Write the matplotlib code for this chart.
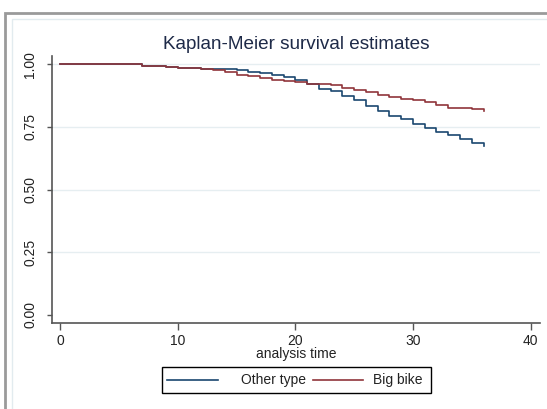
import matplotlib
matplotlib.use("Agg")
import matplotlib.pyplot as plt
from matplotlib.patches import Rectangle
from matplotlib.lines import Line2D

plt.rcParams['font.family'] = ['Liberation Sans', 'DejaVu Sans']

# Kaplan-Meier step values (time in months)
other_t = [0, 7, 9, 10, 12, 14, 15, 16, 17, 18, 19, 20, 21, 22, 23, 24, 25,
           26, 27, 28, 29, 30, 31, 32, 33, 34, 35, 36]
other_s = [1.0, 0.994, 0.991, 0.986, 0.983, 0.980, 0.976, 0.970, 0.964, 0.956,
           0.948, 0.937, 0.921, 0.903, 0.892, 0.875, 0.858, 0.835, 0.815,
           0.795, 0.781, 0.762, 0.745, 0.731, 0.717, 0.702, 0.685, 0.674]

big_t = [0, 7, 9, 10, 12, 13, 14, 15, 16, 17, 18, 19, 20, 21, 23, 24, 25, 26,
         27, 28, 29, 30, 31, 32, 33, 35, 36]
big_s = [1.0, 0.994, 0.989, 0.986, 0.980, 0.976, 0.968, 0.958, 0.952, 0.944,
         0.939, 0.935, 0.929, 0.921, 0.917, 0.907, 0.896, 0.888, 0.879, 0.868,
         0.860, 0.856, 0.848, 0.839, 0.827, 0.822, 0.815]

series_names = ['Other type', 'Big bike']

x_ticks = [0, 10, 20, 30, 40]
y_ticks = [0.0, 0.25, 0.5, 0.75, 1.0]
y_grid = [0.25, 0.5, 0.75, 1.0]

blue = '#1a476f'
red = '#90353b'

W, H = 547, 409
fig = plt.figure(figsize=(W / 100, H / 100), dpi=100)
fig.patch.set_facecolor('white')


def fx(px):
    return px / W


def fy(py):
    return 1 - py / H


# slide-like frame around the graph
fig.add_artist(Rectangle((fx(5), -0.1), 1.2, fy(13) + 0.1,
                         transform=fig.transFigure, fill=False,
                         edgecolor='#9a9a9a', lw=2))
fig.add_artist(Rectangle((fx(12), -0.1), 1.2, fy(19) + 0.1,
                         transform=fig.transFigure, fill=False,
                         edgecolor='#e2ebef', lw=1))

ax = fig.add_axes([fx(51.7), fy(322.7), fx(540 - 51.7), (322.7 - 56) / H])
ax.set_facecolor('none')

for g in y_grid:
    ax.axhline(g, color='#e6eef1', lw=1, zorder=0)

ax.step(other_t, other_s, where='post', color=blue, lw=1.2)
ax.step(big_t, big_s, where='post', color=red, lw=1.2)

ax.set_xlim(-0.71, 40.8)
ax.set_ylim(-0.031, 1.033)
ax.set_xticks(x_ticks)
ax.set_yticks(y_ticks)
ax.set_yticklabels(['%.2f' % v for v in y_ticks], rotation=90, va='center')

for s in ['top', 'right']:
    ax.spines[s].set_visible(False)
for s in ['left', 'bottom']:
    ax.spines[s].set_color('#555555')
    ax.spines[s].set_linewidth(1.2)

ax.tick_params(axis='x', length=5, width=1, color='#555555', pad=3,
               labelsize=10, labelcolor='#222222')
ax.tick_params(axis='y', length=3.5, width=1, color='#555555', pad=7,
               labelsize=10, labelcolor='#222222')

ax.set_xlabel('analysis time', fontsize=10, color='#222222')
ax.xaxis.set_label_coords(0.5, -0.092)

ax.set_title('Kaplan-Meier survival estimates', fontsize=13.6,
             color='#1e2a48', pad=5)

# Stata-style legend box below the plot
fig.add_artist(Rectangle((fx(162), fy(393)), fx(431 - 162), (393 - 367) / H,
                         transform=fig.transFigure, fill=True,
                         facecolor='white', edgecolor='black', lw=1))
ly = fy(380)
for (x0, x1, tx), col, name in zip([(167, 218, 241), (313, 363, 373)],
                                   [blue, red], series_names):
    fig.add_artist(Line2D([fx(x0), fx(x1)], [ly, ly], color=col, lw=1.2,
                          transform=fig.transFigure))
    fig.text(fx(tx), ly, name, fontsize=10, color='#222222',
             ha='left', va='center')

fig.savefig('out.png', dpi=100)
